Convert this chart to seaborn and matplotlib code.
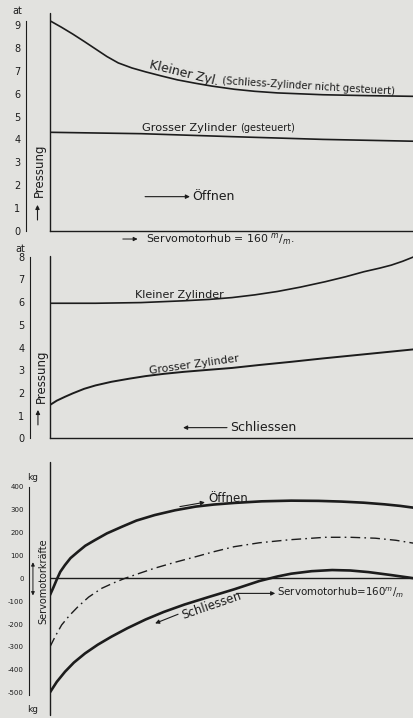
import numpy as np
import pandas as pd
import matplotlib
matplotlib.use("Agg")
import matplotlib.pyplot as plt
import seaborn as sns

sns.set_style("white")
plt.rcParams["font.family"] = ["DejaVu Sans"]
plt.rcParams["axes.unicode_minus"] = False

BG = "#e2e2df"
INK = "#1c1c1c"

# --- Oeffnen: pressure (at) over servomotor stroke (mm)
hub_k1 = [0, 5, 10, 15, 20, 25, 30, 36, 42, 49, 56, 64, 71, 81, 90, 100, 120, 140, 160]
p_klein_oeffnen = [9.18, 8.90, 8.60, 8.28, 7.95, 7.62, 7.34, 7.12, 6.95, 6.77, 6.60,
                   6.45, 6.33, 6.19, 6.10, 6.03, 5.95, 5.91, 5.88]
hub_g1 = [0, 40, 80, 120, 160]
p_gross_oeffnen = [4.31, 4.25, 4.12, 4.00, 3.92]

# --- Schliessen: pressure (at)
hub_k2 = [0, 20, 40, 59, 70, 80, 90, 100, 110, 121, 130, 138, 145, 150, 155, 160]
p_klein_schliessen = [5.95, 5.95, 5.98, 6.06, 6.12, 6.20, 6.32, 6.47, 6.66, 6.90,
                      7.12, 7.34, 7.50, 7.63, 7.80, 8.00]
hub_g2 = [0, 3, 6.6, 10, 15, 20, 27, 35, 42, 50, 59, 70, 80, 92, 106, 120, 135, 148, 160]
p_gross_schliessen = [1.47, 1.66, 1.83, 1.98, 2.18, 2.33, 2.49, 2.63, 2.74, 2.84,
                      2.93, 3.02, 3.10, 3.23, 3.37, 3.52, 3.67, 3.80, 3.92]

# --- Servomotorkraefte (kg)
hub_f1 = [0, 1.5, 2.9, 4.5, 6.6, 9, 12.3, 15.5, 19.8, 25, 31.6, 38, 46, 55, 64, 72,
          81, 93, 106, 118, 128, 138, 147, 154, 160]
kraft_oeffnen = [-73, -40, -7, 28, 58, 88, 116, 142, 167, 196, 225, 252, 276, 297,
                 313, 322, 329, 336, 339, 338, 335, 330, 323, 316, 308]
hub_f2 = [0, 2.5, 5.1, 8.5, 12.3, 17, 22.7, 28, 33, 40, 46, 55, 64, 72, 81, 92, 105,
          121, 132, 143, 152, 160]
kraft_mittel = [-299, -250, -204, -163, -124, -82, -44, -20, 0, 24, 44, 70, 94, 116,
                138, 155, 168, 179, 179, 175, 166, 153]
hub_f3 = [0, 3, 6.6, 10.5, 15.4, 21, 27, 34, 42, 50, 59, 70, 81, 92, 100, 106, 115,
          124, 132, 140, 150, 160]
kraft_schliessen = [-498, -452, -408, -368, -328, -290, -255, -218, -180, -147, -115,
                    -81, -48, -12, 8, 20, 31, 36, 34, 27, 14, 0]

ticks_p1 = list(range(0, 10))
ticks_p2 = list(range(0, 9))
ticks_f = list(range(-500, 401, 100))

fig = plt.figure(figsize=(4.14, 7.18), dpi=100, facecolor=BG)
ax1 = fig.add_axes([0.12077, 0.67827, 0.87923, 0.30300])
ax2 = fig.add_axes([0.12077, 0.38955, 0.87923, 0.25446])
ax3 = fig.add_axes([0.12077, 0.00418, 0.87923, 0.35276])


def frame(ax, ylim, ticks, offset, bounds, labelsize):
    ax.set_facecolor("none")
    ax.set_xlim(0, 160)
    ax.set_ylim(*ylim)
    for s in ["top", "right"]:
        ax.spines[s].set_visible(False)
    ax.spines["left"].set_position(("outward", offset))
    ax.spines["left"].set_bounds(*bounds)
    ax.spines["left"].set_color(INK)
    ax.spines["left"].set_linewidth(0.8)
    ax.spines["bottom"].set_color(INK)
    ax.spines["bottom"].set_linewidth(1.0)
    ax.axvline(0, color=INK, lw=1.0, clip_on=False)
    ax.set_xticks([])
    ax.set_yticks(ticks)
    ax.set_yticklabels([str(t) for t in ticks])
    ax.tick_params(axis="y", direction="inout", length=5, width=0.8,
                   labelsize=labelsize, pad=1.5, colors=INK)
    ax.set_xlabel("")
    ax.set_ylabel("")


def arrow(ax, x0, y0, x1, y1, lw=0.8):
    ax.annotate("", xy=(x1, y1), xytext=(x0, y0),
                arrowprops=dict(arrowstyle="-|>", color=INK, lw=lw,
                                mutation_scale=6, shrinkA=0, shrinkB=0),
                annotation_clip=False)


# ---------------- panel 1: Oeffnen ----------------
frame(ax1, (0, 9.5), ticks_p1, 17.3, (0, 9.15), 7)
sns.lineplot(x=hub_k1, y=p_klein_oeffnen, ax=ax1, color=INK, lw=1.2)
sns.lineplot(x=hub_g1, y=p_gross_oeffnen, ax=ax1, color=INK, lw=1.2)
ax1.text(59, 6.88, "Kleiner Zyl.", rotation=-14, ha="center", va="center",
         fontsize=9, color=INK)
ax1.text(113.5, 6.33, "(Schliess-Zylinder nicht gesteuert)", rotation=-3.5,
         ha="center", va="center", fontsize=7.2, color=INK)
ax1.text(40.4, 4.36, "Grosser Zylinder", ha="left", va="baseline",
         fontsize=8.2, color=INK)
ax1.text(83.5, 4.36, "(gesteuert)", ha="left", va="baseline",
         fontsize=7, color=INK)
arrow(ax1, 41.8, 1.5, 61.5, 1.5)
ax1.text(62.5, 1.5, "Öffnen", ha="left", va="center", fontsize=9, color=INK)
arrow(ax1, 32, -0.35, 38.5, -0.35, lw=0.7)
ax1.text(42, -0.35, "Servomotorhub = 160 $^{m}/_{m}$.", ha="left", va="center",
         fontsize=7.8, color=INK, clip_on=False)
ax1.text(-14.5, 9.6, "at", ha="center", va="center", fontsize=7, color=INK,
         clip_on=False)
ax1.text(-4.5, 2.66, "Pressung", rotation=90, ha="center", va="center",
         fontsize=8.5, color=INK, clip_on=False)
arrow(ax1, -5.5, 0.48, -5.5, 1.14)

# ---------------- panel 2: Schliessen ----------------
frame(ax2, (0, 8.05), ticks_p2, 14.4, (0, 8), 7)
sns.lineplot(x=hub_k2, y=p_klein_schliessen, ax=ax2, color=INK, lw=1.2)
sns.lineplot(x=hub_g2, y=p_gross_schliessen, ax=ax2, color=INK, lw=1.4)
ax2.text(37.4, 6.17, "Kleiner Zylinder", ha="left", va="baseline",
         fontsize=8, color=INK)
ax2.text(44, 2.85, "Grosser Zylinder", rotation=8, rotation_mode="anchor",
         ha="left", va="baseline", fontsize=7.8, color=INK)
arrow(ax2, 77.8, 0.47, 58.5, 0.47)
ax2.text(79, 0.47, "Schliessen", ha="left", va="center", fontsize=9, color=INK)
ax2.text(-4, 2.75, "Pressung", rotation=90, ha="center", va="center",
         fontsize=8.5, color=INK, clip_on=False)
arrow(ax2, -5.3, 0.59, -5.3, 1.25)
ax2.text(-13.2, 8.35, "at", ha="center", va="center", fontsize=7, color=INK,
         clip_on=False)

# ---------------- panel 3: Servomotorkraefte ----------------
frame(ax3, (-597, 509), ticks_f, 15.0, (-510, 400), 5)
ax3.spines["bottom"].set_visible(False)
ax3.axhline(0, color=INK, lw=1.0)
sns.lineplot(x=hub_f1, y=kraft_oeffnen, ax=ax3, color=INK, lw=1.9)
sns.lineplot(x=hub_f2, y=kraft_mittel, ax=ax3, color=INK, lw=1.0,
             linestyle=(0, (7, 3, 1.2, 3)))
sns.lineplot(x=hub_f3, y=kraft_schliessen, ax=ax3, color=INK, lw=1.9)
arrow(ax3, 57.1, 313, 68.1, 332)
ax3.text(69.5, 350, "Öffnen", ha="left", va="center", fontsize=8.5, color=INK)
ax3.text(71, -121, "Schliessen", rotation=19, ha="center", va="center",
         fontsize=8.5, color=INK)
arrow(ax3, 56.3, -157, 46.2, -197)
arrow(ax3, 82, -66, 99, -66)
ax3.text(100, -66, "Servomotorhub=160$^{m}/_{m}$", ha="left", va="center",
         fontsize=7.4, color=INK, clip_on=False)
ax3.text(-3, -12, "Servomotorkräfte", rotation=90, ha="center", va="center",
         fontsize=7, color=INK, clip_on=False)
ax3.annotate("", xy=(-7.5, 70), xytext=(-7.5, -75),
             arrowprops=dict(arrowstyle="<|-|>", color=INK, lw=0.7,
                             mutation_scale=5, shrinkA=0, shrinkB=0),
             annotation_clip=False)
ax3.text(-7.5, 442, "kg", ha="center", va="center", fontsize=6.5, color=INK,
         clip_on=False)
ax3.text(-7.5, -575, "kg", ha="center", va="center", fontsize=6.5, color=INK,
         clip_on=False)

fig.savefig("out.png", dpi=100, facecolor=BG)
